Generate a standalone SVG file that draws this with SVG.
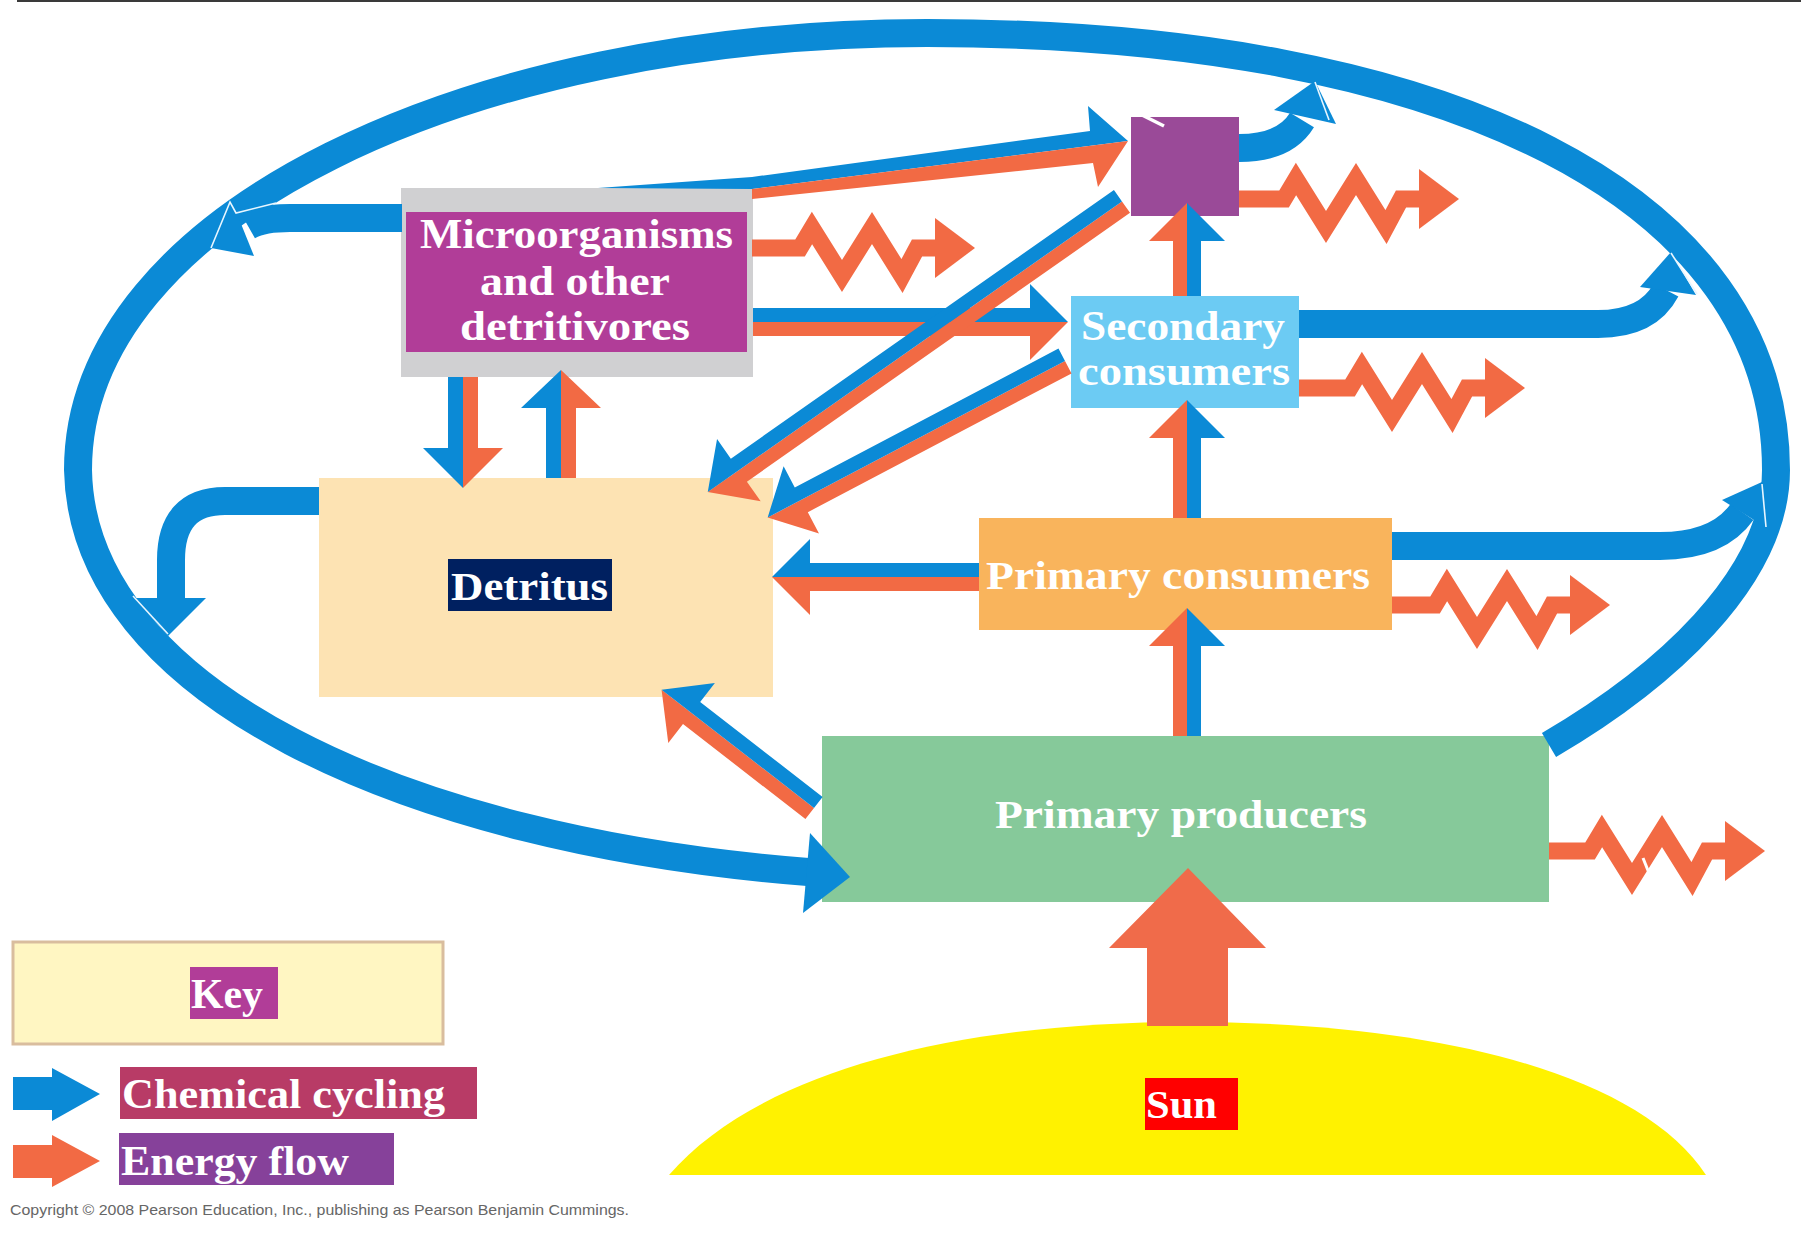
<svg xmlns="http://www.w3.org/2000/svg" width="1801" height="1233" viewBox="0 0 1801 1233">
<style>
.b{fill:#0b8ad6}
.o{fill:#f26a44}
.bs{fill:none;stroke:#0b8ad6;stroke-width:28}
.zz{fill:none;stroke:#f26a44;stroke-width:17;stroke-linejoin:miter;stroke-miterlimit:6}
.wl{fill:none;stroke:#e8f6ff;stroke-width:1.6}
.t{font-family:"Liberation Serif","Times New Roman",serif;font-weight:bold;fill:#ffffff}
</style>
<rect width="1801" height="1233" fill="#ffffff"/>
<line x1="17" y1="1" x2="1801" y2="1" stroke="#3a3a3a" stroke-width="2"/>

<g id="sun">
<path d="M669 1175 C760 1070 960 1022 1188 1022 C1440 1022 1640 1075 1706 1175 Z" fill="#fff200"/>
<rect x="1145" y="1078" width="93" height="52" fill="#ff0000"/>
<text class="t" x="1146" y="1118" font-size="40" textLength="71" lengthAdjust="spacingAndGlyphs">Sun</text>
</g>

<g id="microorganisms">
<rect x="401" y="188" width="352" height="189" fill="#d0d0d2"/>
<rect x="406" y="212" width="341" height="140" fill="#b13d98"/>
<text class="t" x="420" y="248" font-size="42" textLength="313" lengthAdjust="spacingAndGlyphs">Microorganisms</text>
<text class="t" x="480" y="295" font-size="42" textLength="190" lengthAdjust="spacingAndGlyphs">and other</text>
<text class="t" x="460" y="340" font-size="42" textLength="230" lengthAdjust="spacingAndGlyphs">detritivores</text>
</g>

<g id="tertiary-consumers">
<rect x="1131" y="117" width="108" height="99" fill="#9a4a98"/>
<line x1="1138" y1="113" x2="1164" y2="126" stroke="#ffffff" stroke-width="3.5"/>
</g>

<g id="secondary-consumers">
<rect x="1071" y="296" width="228" height="112" fill="#6ccbf3"/>
<text class="t" x="1081" y="340" font-size="42" textLength="204" lengthAdjust="spacingAndGlyphs">Secondary</text>
<text class="t" x="1078" y="385" font-size="42" textLength="212" lengthAdjust="spacingAndGlyphs">consumers</text>
</g>

<g id="detritus">
<rect x="319" y="478" width="454" height="219" fill="#fde3b3"/>
<rect x="448" y="559" width="164" height="52" fill="#002060"/>
<text class="t" x="451" y="600" font-size="41" textLength="157" lengthAdjust="spacingAndGlyphs">Detritus</text>
</g>

<g id="primary-consumers">
<rect x="979" y="518" width="413" height="112" fill="#f9b45c"/>
<text class="t" x="986" y="589" font-size="41" textLength="384" lengthAdjust="spacingAndGlyphs">Primary consumers</text>
</g>

<g id="primary-producers">
<rect x="822" y="736" width="727" height="166" fill="#86c99a"/>
<text class="t" x="995" y="828" font-size="41" textLength="372" lengthAdjust="spacingAndGlyphs">Primary producers</text>
</g>

<g id="key">
<rect x="13" y="942" width="430" height="102" fill="#fff6c2" stroke="#d9bd9e" stroke-width="3"/>
<rect x="190" y="967" width="88" height="52" fill="#b13d98"/>
<text class="t" x="191" y="1008" font-size="42" textLength="72" lengthAdjust="spacingAndGlyphs">Key</text>
<polygon class="b" points="13,1077 52,1077 52,1068 100,1094 52,1121 52,1110 13,1110"/>
<rect x="120" y="1067" width="357" height="52" fill="#b83b66"/>
<text class="t" x="122" y="1108" font-size="42" textLength="323" lengthAdjust="spacingAndGlyphs">Chemical cycling</text>
<polygon class="o" points="13,1145 52,1145 52,1135 100,1161 52,1187 52,1178 13,1178"/>
<rect x="119" y="1133" width="275" height="52" fill="#86419a"/>
<text class="t" x="121" y="1175" font-size="42" textLength="228" lengthAdjust="spacingAndGlyphs">Energy flow</text>
</g>

<text x="10" y="1215" font-family="Liberation Sans, Arial, sans-serif" font-size="15" fill="#666666" textLength="619" lengthAdjust="spacingAndGlyphs">Copyright © 2008 Pearson Education, Inc., publishing as Pearson Benjamin Cummings.</text>

<g id="connectors">
<!-- big chemical cycling loop -->
<path class="bs" d="M1549 745 C1660 680 1776 580 1776 470 C1776 199 1453 33 927 33 C470 33 78 215 78 470 C82 690 400 840 808 872"/>
<polygon class="b" points="810,833 850,877 803,913"/>

<!-- blue branches joining the loop -->
<path class="bs" d="M402 218 H290 Q262 218 248 226"/>
<polygon class="b" points="231,199 254,256 211,248"/>
<polyline class="wl" points="211,248 230,202 236,213 276,203"/>

<path class="bs" d="M319 501 H225 Q171 501 171 560 V600"/>
<polygon class="b" points="134,598 206,598 168,636"/>
<line class="wl" x1="133" y1="596" x2="168" y2="634"/>

<path class="bs" d="M1239 148 Q1285 148 1302 120"/>
<polygon class="b" points="1274,110 1336,124 1315,81"/>
<line class="wl" x1="1315" y1="82" x2="1329" y2="120"/>

<path class="bs" d="M1299 324 H1598 Q1648 324 1666 290"/>
<polygon class="b" points="1640,287 1696,295 1671,252"/>
<line class="wl" x1="1671" y1="253" x2="1697" y2="294"/>

<path class="bs" d="M1392 546 H1660 Q1718 546 1742 512"/>
<polygon class="b" points="1722,500 1770,530 1762,482"/>
<line class="wl" x1="1762" y1="484" x2="1766" y2="527"/>

<!-- paired arrows (chemical + energy) -->
<g transform="translate(753,322)">
<polygon class="b" points="0,0 0,-14 277,-14 277,-38 315,0"/>
<polygon class="o" points="0,0 0,14 277,14 277,38 315,0"/>
</g>
<polygon class="b" points="598,188 752,177 1090,131 1088,106 1128,141 752,189"/>
<polygon class="o" points="752,189 1128,141 1098,187 1093,163 752,199"/>

<g transform="translate(1122,201.4) rotate(144.95)">
<polygon class="o" points="0,0 0,-14 468,-14 468,-38 506,0"/>
<polygon class="b" points="0,0 0,14 468,14 468,38 506,0"/>
</g>
<g transform="translate(1065,361) rotate(152.24)">
<polygon class="o" points="0,0 0,-14 298,-14 298,-38 336,0"/>
<polygon class="b" points="0,0 0,14 298,14 298,38 336,0"/>
</g>
<g transform="translate(979,577) rotate(180)">
<polygon class="o" points="0,0 0,-14 169,-14 169,-38 207,0"/>
<polygon class="b" points="0,0 0,14 169,14 169,38 207,0"/>
</g>
<g transform="translate(814,808) rotate(217.83)">
<polygon class="o" points="0,0 0,-14 155,-14 155,-38 193,0"/>
<polygon class="b" points="0,0 0,14 155,14 155,38 193,0"/>
</g>
<g transform="translate(463,377) rotate(90)">
<polygon class="o" points="0,0 0,-15 71,-15 71,-40 111,0"/>
<polygon class="b" points="0,0 0,15 71,15 71,40 111,0"/>
</g>
<g transform="translate(561,478) rotate(-90)">
<polygon class="b" points="0,0 0,-15 70,-15 70,-40 108,0"/>
<polygon class="o" points="0,0 0,15 70,15 70,40 108,0"/>
</g>
<g transform="translate(1187,736) rotate(-90)">
<polygon class="o" points="0,0 0,-14 90,-14 90,-38 128,0"/>
<polygon class="b" points="0,0 0,14 90,14 90,38 128,0"/>
</g>
<g transform="translate(1187,518) rotate(-90)">
<polygon class="o" points="0,0 0,-14 80,-14 80,-38 118,0"/>
<polygon class="b" points="0,0 0,14 80,14 80,38 118,0"/>
</g>
<g transform="translate(1187,296) rotate(-90)">
<polygon class="o" points="0,0 0,-14 55,-14 55,-38 93,0"/>
<polygon class="b" points="0,0 0,14 55,14 55,38 93,0"/>
</g>

<!-- energy lost as heat -->
<polyline class="zz" points="752,248 800,248 812,228 842,276 872,228 902,276 917,248 937,248"/>
<polygon class="o" points="935,218 975,248 935,278"/>
<polyline class="zz" points="1239,199 1284,199 1296,179 1326,227 1356,179 1386,227 1401,199 1421,199"/>
<polygon class="o" points="1419,169 1459,199 1419,229"/>
<polyline class="zz" points="1299,388 1350,388 1362,368 1392,416 1422,368 1452,416 1467,388 1487,388"/>
<polygon class="o" points="1485,358 1525,388 1485,418"/>
<polyline class="zz" points="1392,605 1435,605 1447,585 1477,633 1507,585 1537,633 1552,605 1572,605"/>
<polygon class="o" points="1570,575 1610,605 1570,635"/>
<polyline class="zz" points="1549,851 1590,851 1602,831 1632,879 1662,831 1692,879 1707,851 1727,851"/>
<polygon class="o" points="1725,821 1765,851 1725,881"/>
<line x1="1643" y1="858" x2="1649" y2="873" stroke="#ffffff" stroke-width="3"/>

<!-- sunlight -->
<polygon fill="#f06b4a" points="1147,1026 1147,948 1109,948 1188,868 1266,948 1228,948 1228,1026"/>
</g>
</svg>
